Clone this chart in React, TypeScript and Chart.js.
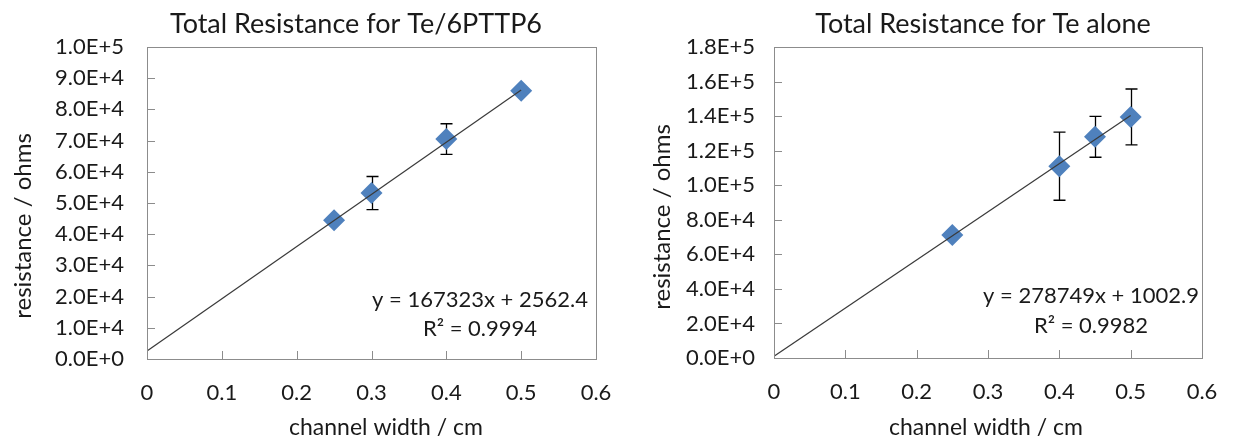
import React, { useEffect, useRef } from 'react';
import { Chart, registerables } from 'chart.js';

Chart.register(...registerables);

const FONT = 'Lato, "Open Sans", sans-serif';
const TEXT = '#1a1a1a';
const AXIS = '#8c8c8c';

// shared
const xTickLabels = ['0', '0.1', '0.2', '0.3', '0.4', '0.5', '0.6'];
const xAxisTitle = 'channel width / cm';
const yAxisTitle = 'resistance / ohms';

// left chart: Te/6PTTP6
const leftTitle = 'Total Resistance for Te/6PTTP6';
const leftWidths = [0.25, 0.3, 0.4, 0.5];
const leftResistance = [44500, 53200, 70500, 86000];
const leftError = [0, 5300, 4900, 0];
const leftYTickLabels = ['0.0E+0', '1.0E+4', '2.0E+4', '3.0E+4', '4.0E+4', '5.0E+4', '6.0E+4', '7.0E+4', '8.0E+4', '9.0E+4', '1.0E+5'];
const leftSlope = 167323;
const leftIntercept = 2562.4;
const leftEquation = ['y = 167323x + 2562.4', 'R\u00B2 = 0.9994'];

// right chart: Te alone
const rightTitle = 'Total Resistance for Te alone';
const rightWidths = [0.25, 0.4, 0.45, 0.5];
const rightResistance = [71200, 111000, 128000, 139500];
const rightError = [0, 19700, 11800, 16200];
const rightYTickLabels = ['0.0E+0', '2.0E+4', '4.0E+4', '6.0E+4', '8.0E+4', '1.0E+5', '1.2E+5', '1.4E+5', '1.6E+5', '1.8E+5'];
const rightSlope = 278749;
const rightIntercept = 1002.9;
const rightEquation = ['y = 278749x + 1002.9', 'R\u00B2 = 0.9982'];

const decoPlugin = {
  id: 'deco',
  beforeDatasetsDraw(chart: any, _args: any, opts: any) {
    const { ctx } = chart;
    const xs = chart.scales.x;
    const ys = chart.scales.y;
    ctx.save();
    ctx.strokeStyle = '#000';
    ctx.lineWidth = 1.3;
    opts.xs.forEach((xv: number, i: number) => {
      const e = opts.err[i];
      if (!e) return;
      const px = Math.round(xs.getPixelForValue(xv)) + 0.5;
      const t = ys.getPixelForValue(opts.ys[i] + e);
      const b = ys.getPixelForValue(opts.ys[i] - e);
      ctx.beginPath();
      ctx.moveTo(px, t);
      ctx.lineTo(px, b);
      ctx.moveTo(px - 6, t);
      ctx.lineTo(px + 6, t);
      ctx.moveTo(px - 6, b);
      ctx.lineTo(px + 6, b);
      ctx.stroke();
    });
    ctx.restore();
  },
  afterDraw(chart: any, _args: any, opts: any) {
    const { ctx, chartArea: a } = chart;
    const xs = chart.scales.x;
    const ys = chart.scales.y;
    ctx.save();
    // plot frame
    ctx.strokeStyle = AXIS;
    ctx.lineWidth = 1;
    ctx.strokeRect(Math.round(a.left) + 0.5, Math.round(a.top) + 0.5, Math.round(a.right - a.left), Math.round(a.bottom - a.top));
    // inner tick marks
    ctx.beginPath();
    xs.ticks.forEach((t: any) => {
      const px = Math.round(xs.getPixelForValue(t.value)) + 0.5;
      ctx.moveTo(px, a.bottom);
      ctx.lineTo(px, a.bottom - 8);
    });
    ys.ticks.forEach((t: any) => {
      const py = Math.round(ys.getPixelForValue(t.value)) + 0.5;
      ctx.moveTo(a.left, py);
      ctx.lineTo(a.left + 8, py);
    });
    ctx.stroke();
    // texts
    ctx.fillStyle = TEXT;
    ctx.textAlign = 'center';
    ctx.textBaseline = 'alphabetic';
    ctx.font = `27px ${FONT}`;
    ctx.fillText(opts.title, opts.titleX, 33);
    ctx.font = `23px ${FONT}`;
    ctx.fillText(xAxisTitle, opts.xTitleX, 435);
    ctx.font = `22px ${FONT}`;
    opts.eq.forEach((s: string, i: number) => {
      ctx.fillText(s, opts.eqX, opts.eqY[i]);
    });
    ctx.font = `24px ${FONT}`;
    ctx.translate(opts.yTitleX, opts.yTitleY);
    ctx.rotate(-Math.PI / 2);
    ctx.textBaseline = 'middle';
    ctx.fillText(yAxisTitle, 0, 0);
    ctx.restore();
  },
};

type Cfg = {
  xs: number[];
  ys: number[];
  err: number[];
  yLabels: string[];
  yMax: number;
  yStep: number;
  slope: number;
  intercept: number;
  yAxisWidth: number;
  xAxisHeight: number;
  padRight: number;
  tickPad: number;
  deco: any;
};

function makeConfig(c: Cfg): any {
  return {
    type: 'scatter',
    data: {
      datasets: [
        {
          data: c.xs.map((x, i) => ({ x, y: c.ys[i] })),
          pointStyle: 'rectRot',
          pointRadius: 11,
          pointHoverRadius: 11,
          backgroundColor: '#4F81BD',
          borderColor: '#4F81BD',
          borderWidth: 0,
          order: 1,
        },
        {
          data: [
            { x: 0, y: c.intercept },
            { x: 0.5, y: c.slope * 0.5 + c.intercept },
          ],
          showLine: true,
          pointRadius: 0,
          borderColor: '#3a3a3a',
          borderWidth: 1.2,
          order: 0,
        },
      ],
    },
    options: {
      responsive: false,
      animation: false,
      layout: { padding: { top: 47, left: 0, right: c.padRight, bottom: 0 } },
      plugins: {
        legend: { display: false },
        tooltip: { enabled: false },
        title: { display: false },
        deco: c.deco,
      },
      scales: {
        x: {
          type: 'linear',
          min: 0,
          max: 0.6,
          ticks: {
            stepSize: 0.1,
            padding: 21,
            color: TEXT,
            font: { family: FONT, size: 22 },
            maxRotation: 0,
            callback: (_v: any, i: number) => xTickLabels[i],
          },
          grid: { display: false, drawTicks: false },
          border: { display: false },
          afterFit: (s: any) => {
            s.height = c.xAxisHeight;
          },
        },
        y: {
          type: 'linear',
          min: 0,
          max: c.yMax,
          ticks: {
            stepSize: c.yStep,
            padding: c.tickPad,
            color: TEXT,
            font: { family: FONT, size: 22 },
            callback: (_v: any, i: number) => c.yLabels[i],
          },
          grid: { display: false, drawTicks: false },
          border: { display: false },
          afterFit: (s: any) => {
            s.width = c.yAxisWidth;
          },
        },
      },
    },
    plugins: [decoPlugin],
  };
}

function ChartCanvas({ cfg, left, width }: { cfg: Cfg; left: number; width: number }) {
  const ref = useRef<HTMLCanvasElement>(null);
  useEffect(() => {
    if (!ref.current) return;
    const chart = new Chart(ref.current, makeConfig(cfg));
    return () => chart.destroy();
  }, []);
  return (
    <canvas
      ref={ref}
      width={width}
      height={443}
      style={{ position: 'absolute', left, top: 0, width, height: 443 }}
    />
  );
}

const leftCfg: Cfg = {
  xs: leftWidths,
  ys: leftResistance,
  err: leftError,
  yLabels: leftYTickLabels,
  yMax: 100000,
  yStep: 10000,
  slope: leftSlope,
  intercept: leftIntercept,
  yAxisWidth: 147,
  xAxisHeight: 84,
  padRight: 44,
  tickPad: 23,
  deco: {
    xs: leftWidths,
    ys: leftResistance,
    err: leftError,
    title: leftTitle,
    titleX: 356,
    xTitleX: 386,
    yTitleX: 23,
    yTitleY: 226,
    eq: leftEquation,
    eqX: 480,
    eqY: [307, 336],
  },
};

const rightCfg: Cfg = {
  xs: rightWidths,
  ys: rightResistance,
  err: rightError,
  yLabels: rightYTickLabels,
  yMax: 180000,
  yStep: 20000,
  slope: rightSlope,
  intercept: rightIntercept,
  yAxisWidth: 134,
  xAxisHeight: 85,
  padRight: 51,
  tickPad: 19,
  deco: {
    xs: rightWidths,
    ys: rightResistance,
    err: rightError,
    title: rightTitle,
    titleX: 343,
    xTitleX: 346,
    yTitleX: 22,
    yTitleY: 217,
    eq: rightEquation,
    eqX: 451,
    eqY: [303, 333],
  },
};

export default function App() {
  return (
    <div style={{ position: 'fixed', left: 0, top: 0, width: 1253, height: 443, background: '#fff' }}>
      <ChartCanvas cfg={leftCfg} left={0} width={640} />
      <ChartCanvas cfg={rightCfg} left={640} width={613} />
    </div>
  );
}
